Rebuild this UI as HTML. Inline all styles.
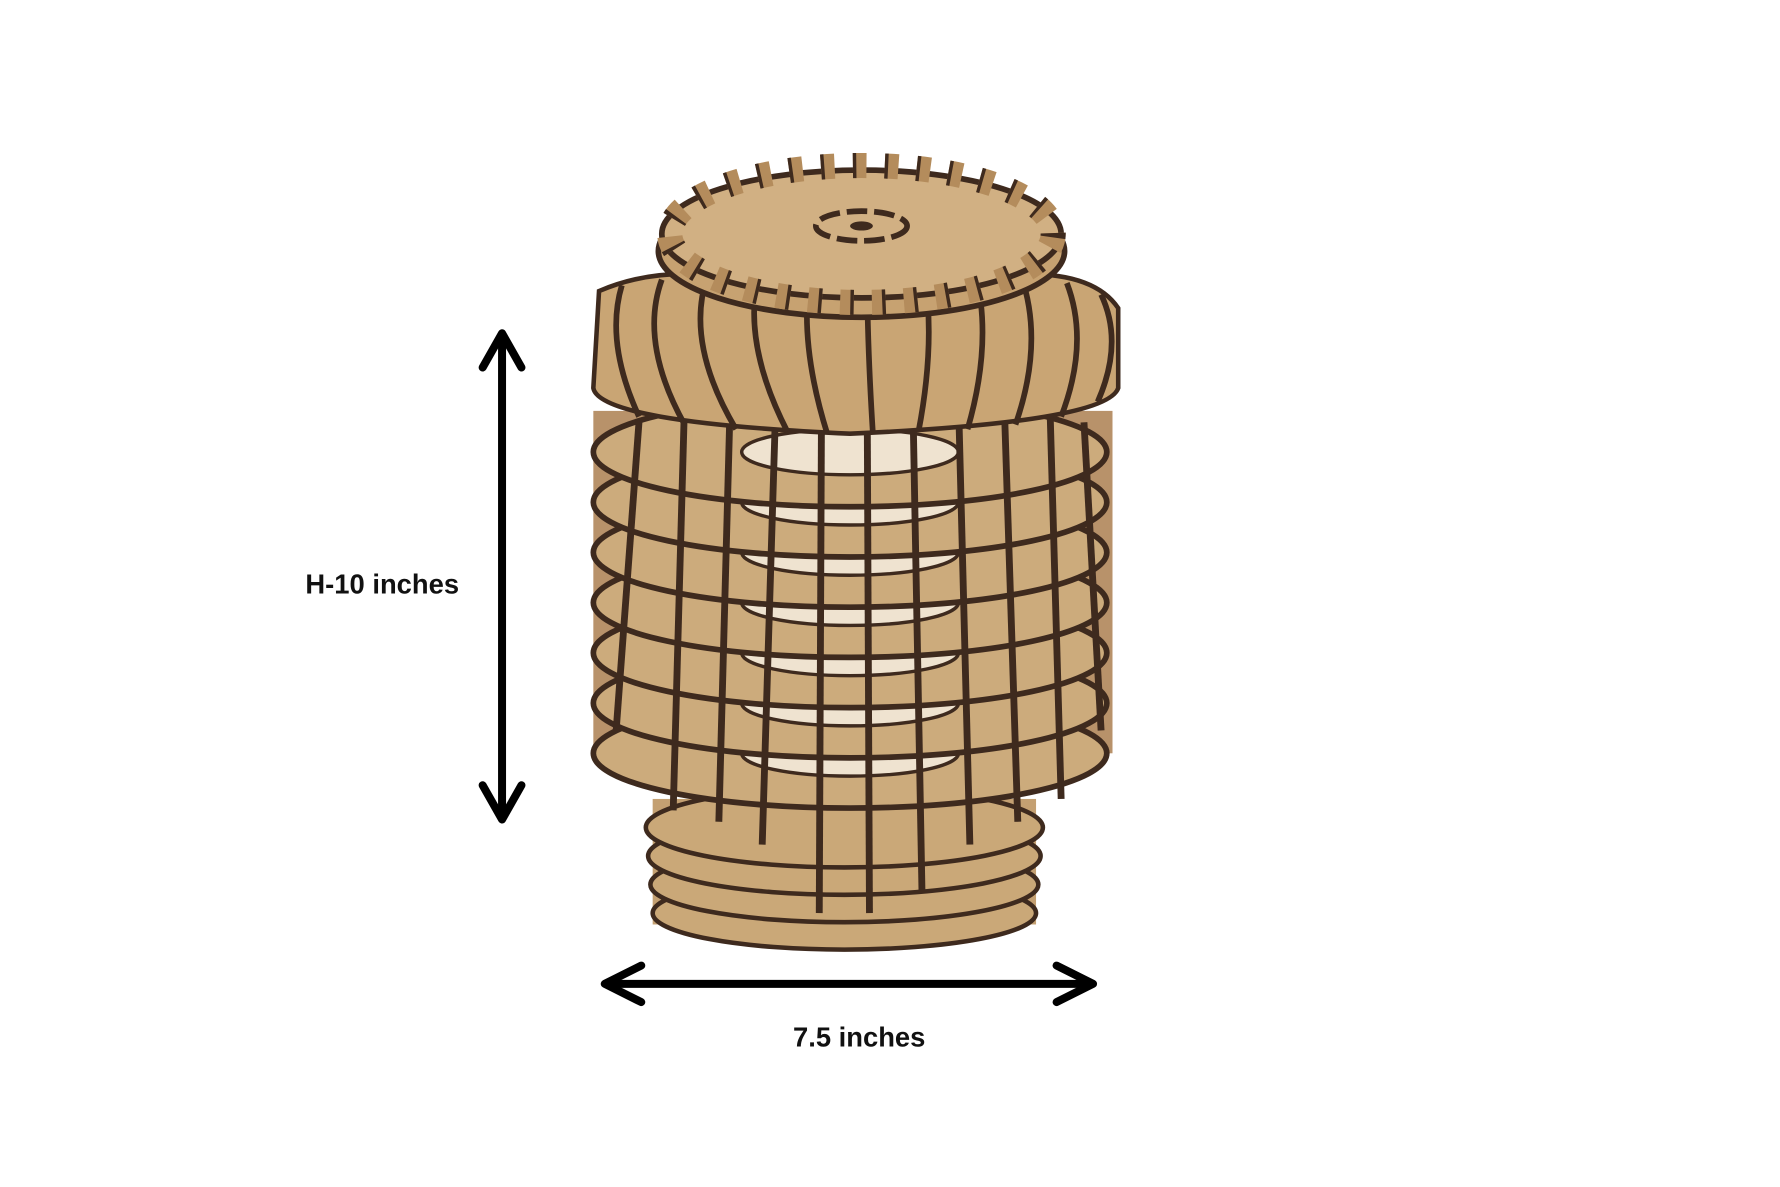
<!DOCTYPE html>
<html><head><meta charset="utf-8"><style>
html,body{margin:0;padding:0;background:#fff;}
svg{display:block;}
text{font-family:"Liberation Sans",sans-serif;font-weight:bold;}
</style></head><body>
<svg width="1780" height="1187" viewBox="0 0 1560 1040" preserveAspectRatio="none" xmlns="http://www.w3.org/2000/svg">
<rect width="1560" height="1040" fill="#fff"/>
<!-- bottom section -->
<g stroke="#3e2a1e" stroke-width="4">
<rect x="572" y="700" width="336" height="110" fill="#c4a072" stroke="none"/>
<ellipse cx="740" cy="800" rx="168" ry="32" fill="#caa878"/>
<ellipse cx="740" cy="775" rx="170" ry="33" fill="#caa878"/>
<ellipse cx="740" cy="750" rx="172" ry="34" fill="#caa878"/>
<ellipse cx="740" cy="725" rx="174" ry="35" fill="#caa878"/>
</g>
<!-- middle rings -->
<g stroke="#3e2a1e" stroke-width="5">
<rect x="520" y="360" width="455" height="300" fill="#b8926a" stroke="none"/>
<ellipse cx="745" cy="660" rx="225" ry="48" fill="#ccab7c"/>
<ellipse cx="745" cy="660" rx="95" ry="20" fill="#efe3d0" stroke-width="3"/>
<ellipse cx="745" cy="616" rx="225" ry="48" fill="#ccab7c"/>
<ellipse cx="745" cy="616" rx="95" ry="20" fill="#efe3d0" stroke-width="3"/>
<ellipse cx="745" cy="572" rx="225" ry="48" fill="#ccab7c"/>
<ellipse cx="745" cy="572" rx="95" ry="20" fill="#efe3d0" stroke-width="3"/>
<ellipse cx="745" cy="528" rx="225" ry="48" fill="#ccab7c"/>
<ellipse cx="745" cy="528" rx="95" ry="20" fill="#efe3d0" stroke-width="3"/>
<ellipse cx="745" cy="484" rx="225" ry="48" fill="#ccab7c"/>
<ellipse cx="745" cy="484" rx="95" ry="20" fill="#efe3d0" stroke-width="3"/>
<ellipse cx="745" cy="440" rx="225" ry="48" fill="#ccab7c"/>
<ellipse cx="745" cy="440" rx="95" ry="20" fill="#efe3d0" stroke-width="3"/>
<ellipse cx="745" cy="396" rx="225" ry="48" fill="#ccab7c"/>
<ellipse cx="745" cy="396" rx="95" ry="20" fill="#efe3d0" stroke-width="3"/>
</g>
<!-- vertical ribs through rings -->
<g stroke="#3e2a1e" stroke-width="6" fill="none">
<path d="M600 350 L590 710"/><path d="M640 350 L630 720"/><path d="M680 350 L668 740"/>
<path d="M720 350 L718 800"/><path d="M760 350 L762 800"/><path d="M800 350 L808 780"/>
<path d="M840 350 L850 740"/><path d="M880 350 L892 720"/><path d="M920 350 L930 700"/>
<path d="M560 370 L540 640"/><path d="M950 370 L965 640"/>
</g>
<!-- upper bulge -->
<path d="M525 255 Q560 240 600 240 L900 240 Q960 240 980 270 L980 340 Q970 370 745 380 Q525 370 520 340 Z" fill="#c9a574" stroke="#3e2a1e" stroke-width="4"/>
<g stroke="#3e2a1e" stroke-width="5" fill="none">
<path d="M545 250 Q530 300 560 365"/><path d="M580 245 Q560 300 600 372"/>
<path d="M620 242 Q600 300 645 376"/><path d="M665 240 Q650 300 690 378"/>
<path d="M710 240 Q700 300 725 380"/><path d="M760 240 Q760 300 765 380"/>
<path d="M810 240 Q820 300 805 378"/><path d="M855 240 Q870 300 848 376"/>
<path d="M895 242 Q915 300 890 372"/><path d="M935 248 Q955 300 930 365"/>
<path d="M965 258 Q985 300 962 352"/>
</g>
<!-- top discs -->
<ellipse cx="755" cy="220" rx="178" ry="58" fill="#c7a271" stroke="#3e2a1e" stroke-width="5"/>
<ellipse cx="755" cy="205" rx="175" ry="56" fill="#d1b083" stroke="#3e2a1e" stroke-width="5"/>
<ellipse cx="755" cy="205" rx="168" ry="60" fill="none" stroke="#b48c5c" stroke-width="22" stroke-dasharray="12 16"/>
<ellipse cx="755" cy="205" rx="168" ry="60" fill="none" stroke="#3e2a1e" stroke-width="22" stroke-dasharray="3 25"/>
<ellipse cx="755" cy="198" rx="40" ry="13" fill="none" stroke="#3e2a1e" stroke-width="5" stroke-dasharray="18 6"/>
<ellipse cx="755" cy="198" rx="10" ry="4" fill="#3e2a1e"/>
<!-- arrows -->
<g stroke="#000" stroke-width="7" fill="none" stroke-linecap="round" stroke-linejoin="round">
<line x1="440" y1="296" x2="440" y2="714"/>
<path d="M423 322 L440 292 L457 322"/>
<path d="M423 688 L440 718 L457 688"/>
<line x1="532" y1="862" x2="956" y2="862"/>
<path d="M562 846 L530 862 L562 878"/>
<path d="M926 846 L958 862 L926 878"/>
</g>
<text x="335" y="520" font-size="24" text-anchor="middle" fill="#111">H-10 inches</text>
<text x="753" y="917" font-size="24" text-anchor="middle" fill="#111">7.5 inches</text>
</svg>
</body></html>
